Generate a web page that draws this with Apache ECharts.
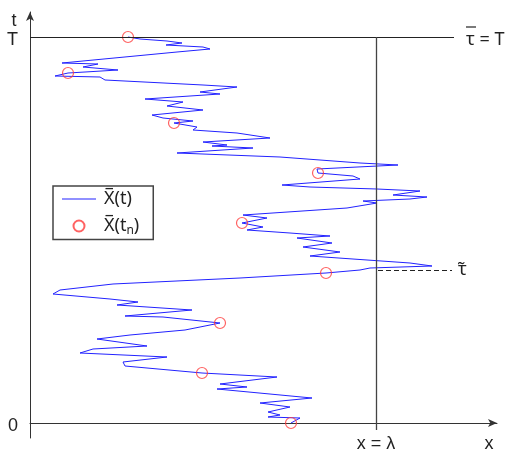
<!DOCTYPE html>
<html><head><meta charset="utf-8">
<script src="https://cdn.jsdelivr.net/npm/echarts@6/dist/echarts.min.js"></script>
<style>html,body{margin:0;padding:0;background:#fff}#c{width:512px;height:455px}</style>
</head><body><div id="c"></div>
<script>
// Path X(t): x position vs time t (units)
const pathX = [261,270,238,250,238,260,230,282,187,217,190,247,172,95,93,137,50,63,117,67,100,155,190,133,95,162,87,108,80,23,30,83,210,296,330,340,402,380,280,310,273,302,267,300,260,217,233,212,237,213,317,347,333,380,397,363,390,347,280,252,330,323,288,287,368,330,250,147,223,182,197,173,240,207,163,167,144,163,133,122,173,137,153,115,190,170,207,173,75,70,25,38,55,88,53,68,32,147,180,173,136,152,137,110,98];
const pathT = [0,5,6,8,11,16,20,25,34,36,39,46,50,57,61,66,70,74,77,84,88,93,100,106,107,113,118,121,124,129,133,139,145,150,153,155,157,160,167,171,176,180,185,187,190,193,196,200,205,208,215,220,222,224,226,228,232,234,236,238,244,247,250,254,258,260,266,270,275,277,278,281,285,290,293,296,300,302,305,308,313,317,321,324,329,331,336,338,343,346,347,350,351,353,356,359,360,371,374,376,378,380,382,384,386];
// Sampled points X(t_n)
const sampleX = [261,172,190,296,212,288,144,38,98];
const sampleT = [0,50,100,150,200,250,300,350,386];
// Reference levels
const T = 386;          // top time  (tau-bar = T)
const lambda = 346;     // barrier x = lambda
const tauTilde = 153;   // dashed level
const tLabels = ['0', 'T'];

const pathData = pathX.map((x, i) => [x, pathT[i]]);
const sampleData = sampleX.map((x, i) => [x, sampleT[i]]);

const FONT = 'Liberation Sans, Arial, sans-serif';
const MFONT = 'Noto Sans, DejaVu Sans, sans-serif';
const TXT = '#222';

const chart = echarts.init(document.getElementById('c'));
chart.setOption({
  animation: false,
  grid: { left: 30, right: 15, top: 12, bottom: 17 },
  xAxis: {
    type: 'value', min: 0, max: 467,
    axisLine: { show: true, onZero: true, symbol: ['none', 'arrow'], symbolSize: [6, 9], lineStyle: { color: '#333', width: 1 } },
    axisTick: { show: false }, axisLabel: { show: false }, splitLine: { show: false }
  },
  yAxis: {
    type: 'value', min: -15, max: 411,
    axisLine: { show: true, onZero: true, symbol: ['none', 'arrow'], symbolSize: [6, 9], lineStyle: { color: '#333', width: 1 } },
    axisTick: { show: false }, splitLine: { show: false },
    axisLabel: {
      show: true, customValues: [0, T],
      formatter: v => '{a|' + (v === T ? tLabels[1] : tLabels[0]) + '}',
      margin: 12,
      rich: { a: { fontSize: 18, color: TXT, fontFamily: FONT, padding: [7, 0, 0, 0] } }
    }
  },
  legend: {
    orient: 'vertical', left: 53, top: 186,
    borderColor: '#444', borderWidth: 1.5, borderRadius: 0,
    padding: [4, 14, 3, 9], itemGap: 9,
    itemWidth: 34, itemHeight: 11,
    textStyle: {
      fontSize: 18, color: TXT, fontFamily: MFONT, padding: [0, 0, 0, 3],
      rich: { sub: { fontSize: 12, color: TXT, fontFamily: MFONT, padding: [9, 0, 0, 0] } }
    },
    formatter: name => name === 'path' ? 'X\u0305(t)' : 'X\u0305(t{sub|n})',
    data: [{ name: 'path', icon: 'path://M0,0L34,0L34,1L0,1Z' }, 'samples']
  },
  series: [
    {
      name: 'path', type: 'line', data: pathData, showSymbol: false, symbol: 'none',
      clip: false, z: 3,
      lineStyle: { color: '#2222ff', width: 1 }, itemStyle: { color: '#2222ff' },
      markLine: {
        silent: true, symbol: ['none', 'none'], animation: false,
        data: [
          [{ coord: [0, T], lineStyle: { color: '#222', width: 1, type: 'solid' },
             label: { show: true, position: 'end', distance: 12,
               formatter: '{ov| }\n{m|τ = T}',
               rich: {
                 ov: { width: 10, height: 1.2, lineHeight: 1, fontSize: 1, backgroundColor: TXT },
                 m: { fontSize: 18, color: TXT, fontFamily: MFONT, lineHeight: 20, padding: [4, 0, 0, 0] }
               } } },
           { coord: [424, T] }],
          [{ coord: [lambda, T], lineStyle: { color: '#444', width: 1.3, type: 'solid' },
             label: { show: true, position: 'end', distance: 5, formatter: 'x = λ', fontSize: 18, color: TXT, fontFamily: FONT } },
           { coord: [lambda, -7] }],
          [{ coord: [lambda + 2, tauTilde], lineStyle: { color: '#222', width: 1, type: [5, 3] },
             label: { show: true, position: 'end', distance: 6, formatter: 'τ\u0303', fontSize: 18, color: TXT, fontFamily: MFONT, padding: [8, 0, 0, 0] } },
           { coord: [422, tauTilde] }]
        ]
      }
    },
    {
      name: 'samples', type: 'scatter', data: sampleData, symbol: 'circle', symbolSize: 11,
      clip: false, z: 4,
      itemStyle: { color: 'rgba(255,255,255,0)', borderColor: '#ff3b3b', borderWidth: 1.2 }
    }
  ]
});

const pTop = chart.convertToPixel({ gridIndex: 0 }, [0, 411]);
const pRight = chart.convertToPixel({ gridIndex: 0 }, [467, 0]);
chart.setOption({
  graphic: [
    { type: 'text', x: pTop[0] - 16, y: pTop[1] + 9, style: { text: 't', fontSize: 18, fill: TXT, fontFamily: FONT, align: 'center', verticalAlign: 'middle' } },
    { type: 'text', x: pRight[0] - 8, y: pRight[1] + 21, style: { text: 'x', fontSize: 18, fill: TXT, fontFamily: FONT, align: 'center', verticalAlign: 'middle' } }
  ]
});
</script></body></html>
